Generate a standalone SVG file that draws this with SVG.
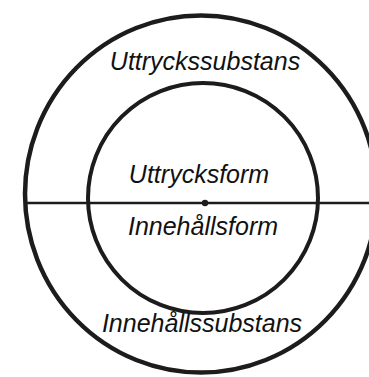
<svg xmlns="http://www.w3.org/2000/svg" width="369" height="377" viewBox="0 0 369 377">
<style>
.ring{fill:none;stroke:#1c1c1c}
.lbl{font-family:"Liberation Sans",Arial,sans-serif;font-style:italic;font-size:25px;fill:#111;text-anchor:middle}
</style>
<rect width="369" height="377" fill="#fff"/>
<g id="outer"><ellipse class="ring" cx="201" cy="194" rx="176" ry="178.5" stroke-width="4.5"/></g>
<g id="inner"><circle class="ring" cx="203" cy="198" r="115" stroke-width="4"/></g>
<g id="connectors"><line x1="26" y1="203" x2="369" y2="203" stroke="#1c1c1c" stroke-width="2.4"/><circle cx="205" cy="203" r="3.2" fill="#1c1c1c"/></g>
<g id="labels">
<text class="lbl" x="205" y="70">Uttryckssubstans</text>
<text class="lbl" x="199" y="183">Uttrycksform</text>
<text class="lbl" x="203" y="235">Innehållsform</text>
<text class="lbl" x="202" y="332">Innehållssubstans</text>
</g>
</svg>
